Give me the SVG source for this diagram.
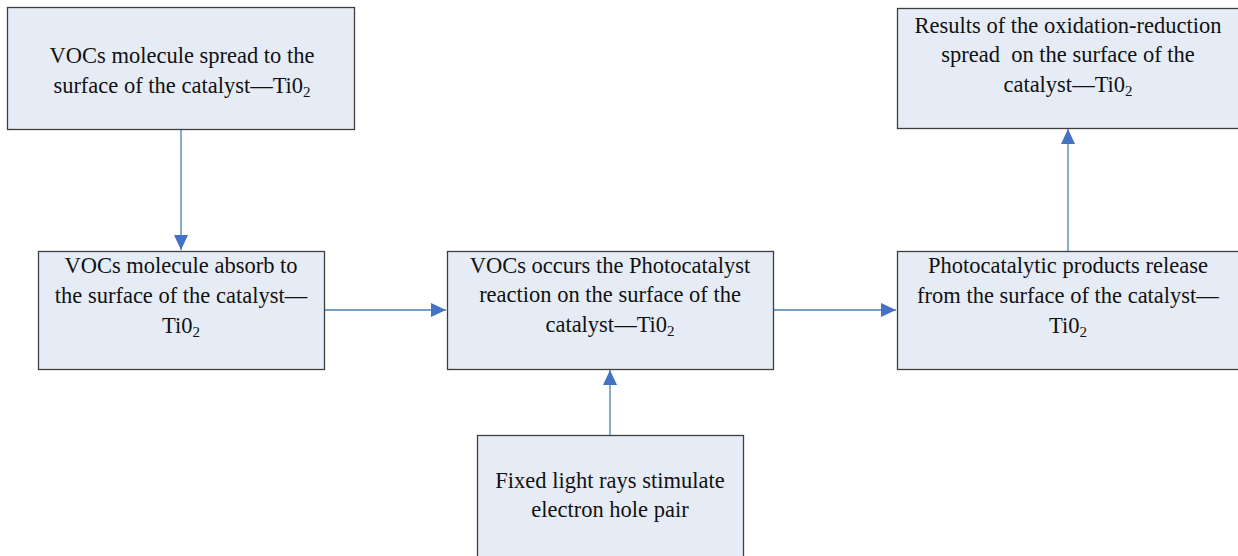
<svg xmlns="http://www.w3.org/2000/svg" width="1238" height="556" viewBox="0 0 1238 556">
<defs>
<style>
.box{fill:#E6ECF6;stroke:#3F3F3F;stroke-width:1.3}
.t{font-family:"Liberation Serif","Times New Roman",serif;font-size:22.5px;fill:#111;text-anchor:middle}
.sub{font-size:15px}
.edge{stroke:#4A7EBB;stroke-width:1.3;fill:none}
</style>
<marker id="ah" markerUnits="userSpaceOnUse" markerWidth="16" markerHeight="16" viewBox="0 0 16 16" refX="15" refY="8" orient="auto">
<path d="M0,1 L15,8 L0,15 Z" fill="#4472C4"/>
</marker>
</defs>
<rect width="1238" height="556" fill="#FFFFFF"/>
<g id="connectors">
<path class="edge" d="M181,130 L181,250" marker-end="url(#ah)"/>
<path class="edge" d="M324,310 L446,310" marker-end="url(#ah)"/>
<path class="edge" d="M774,310 L896,310" marker-end="url(#ah)"/>
<path class="edge" d="M610,435 L610,370" marker-end="url(#ah)"/>
<path class="edge" d="M1068,251 L1068,129" marker-end="url(#ah)"/>
</g>
<g id="n1">
<rect class="box" x="7.5" y="7.5" width="347" height="122"/>
<text class="t" x="182" y="63">VOCs molecule spread to the</text>
<text class="t" x="182" y="93">surface of the catalyst—Ti0<tspan class="sub" dy="4">2</tspan></text>
</g>
<g id="n2">
<rect class="box" x="897.5" y="8.5" width="342" height="120"/>
<text class="t" x="1068" y="33">Results of the oxidation-reduction</text>
<text class="t" x="1068" y="62" xml:space="preserve">spread  on the surface of the</text>
<text class="t" x="1068" y="92">catalyst—Ti0<tspan class="sub" dy="4">2</tspan></text>
</g>
<g id="n3">
<rect class="box" x="38.5" y="251.5" width="286" height="118"/>
<text class="t" x="181" y="273">VOCs molecule absorb to</text>
<text class="t" x="181" y="303">the surface of the catalyst—</text>
<text class="t" x="181" y="333">Ti0<tspan class="sub" dy="4">2</tspan></text>
</g>
<g id="n4">
<rect class="box" x="447.5" y="251.5" width="326" height="118"/>
<text class="t" x="610" y="273">VOCs occurs the Photocatalyst</text>
<text class="t" x="610" y="302">reaction on the surface of the</text>
<text class="t" x="610" y="332">catalyst—Ti0<tspan class="sub" dy="4">2</tspan></text>
</g>
<g id="n5">
<rect class="box" x="897.5" y="251.5" width="342" height="118"/>
<text class="t" x="1068" y="273">Photocatalytic products release</text>
<text class="t" x="1068" y="303">from the surface of the catalyst—</text>
<text class="t" x="1068" y="333">Ti0<tspan class="sub" dy="4">2</tspan></text>
</g>
<g id="n6">
<rect class="box" x="477.5" y="435.5" width="266" height="125"/>
<text class="t" x="610" y="488">Fixed light rays stimulate</text>
<text class="t" x="610" y="517">electron hole pair</text>
</g>
</svg>
